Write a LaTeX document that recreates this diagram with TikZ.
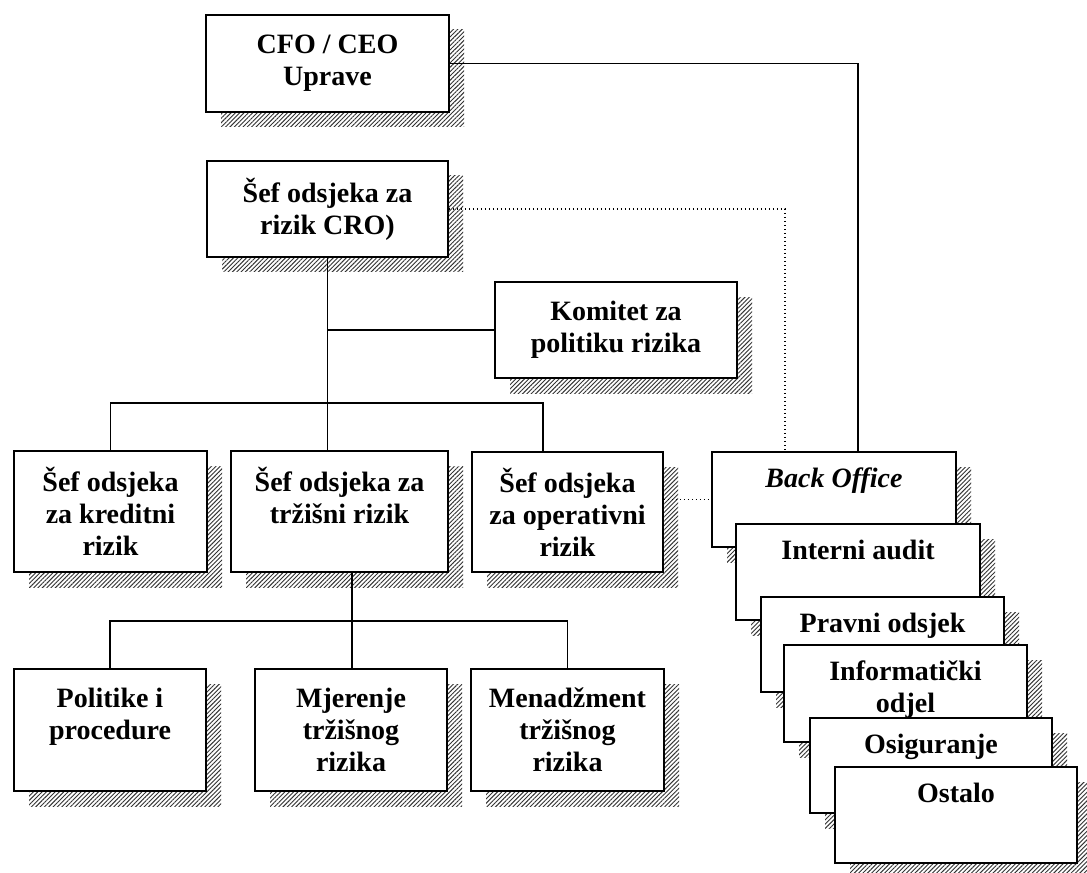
\documentclass[tikz,border=0pt]{standalone}
\usepackage{fontspec}
\setmainfont{Liberation Serif}
\usetikzlibrary{patterns.meta,shadows}
\newdimen\px \px=0.75pt
\begin{document}
\begin{tikzpicture}[x=0.75pt,y=-0.75pt,
  txtfont/.style={font=\fontsize{21}{24}\selectfont\bfseries},
  box/.style={draw, line width=1.4pt, fill=white, inner sep=0pt, align=center, txtfont,
    general shadow={shadow xshift=11.25pt, shadow yshift=-11.25pt, draw=none,
      pattern={Lines[angle=45,distance=2.3pt,line width=0.7pt]}, pattern color=black!80}},
  sz/.style 2 args={minimum width=#1*\px, minimum height=#2*\px},
  stxt/.style={anchor=north, inner sep=0pt, align=center, txtfont},
  conn/.style={line width=1.1pt},
  dots/.style={line width=1pt, dotted}]
\useasboundingbox (0,0) rectangle (1087,873);
\fill[white] (0,0) rectangle (1087,873);

\node[box, sz={243}{97}] (cfo) at (327.5,63.5) {CFO / CEO\\Uprave};
\node[box, sz={241}{96}] (cro) at (327.5,209) {Šef odsjeka za\\rizik CRO)};
\node[box, sz={242}{96}] (kom) at (616,330) {Komitet za\\politiku rizika};
\node[box, sz={193}{121}] (kred) at (110.5,511.5) {Šef odsjeka\\za kreditni\\rizik};
\node[box, sz={217}{121}] (trz) at (339.5,511.5) {Šef odsjeka za\\tržišni rizik\\\phantom{x}};
\node[box, sz={191}{120}] (oper) at (567.5,512) {Šef odsjeka\\za operativni\\rizik};
\node[box, sz={192}{122}] (pol) at (110,730) {Politike i\\procedure\\\phantom{x}};
\node[box, sz={192}{122}] (mje) at (351,730) {Mjerenje\\tržišnog\\rizika};
\node[box, sz={193}{122}] (men) at (567.5,730) {Menadžment\\tržišnog\\rizika};

\node[box, sz={244}{95}] (bo) at (834,499.5) {};
\node[stxt] (bot) at ([yshift=-10.5pt]bo.north) {\strut\textit{Back Office}};
\node[box, sz={244}{96}] (ia) at (858,572) {};
\node[stxt] (iat) at ([yshift=-10.5pt]ia.north) {\strut Interni audit};
\node[box, sz={243}{95}] (pr) at (882.5,644.5) {};
\node[stxt] (prt) at ([yshift=-10.5pt]pr.north) {\strut Pravni odsjek};
\node[box, sz={243}{97}] (inf) at (905.5,693.5) {};
\node[stxt] (inft) at ([yshift=-10.5pt]inf.north) {\strut Informatički\\odjel};
\node[box, sz={242}{95}] (os) at (931,765.5) {};
\node[stxt] (ost) at ([yshift=-10.5pt]os.north) {\strut Osiguranje};
\node[box, sz={242}{96}] (ot) at (956,815) {};
\node[stxt] (ott) at ([yshift=-10.5pt]ot.north) {\strut Ostalo};

% connectors
\draw[conn] (cfo.east) -| ([xshift=18pt]bo.north);
\draw[dots] (cro.east) -| ([xshift=-36.75pt]bo.north);
\coordinate (j1) at (cro.south |- 0,403);
\draw[conn] (cro.south) -- (cro.south |- trz.north);
\draw[conn] (kom.west) -- (kom.west -| cro.south);
\draw[conn] (kred.north) |- (j1) -| ([xshift=-18.4pt]oper.north);
\coordinate (t1) at ([xshift=9.4pt]trz.south);
\coordinate (j2) at (t1 |- 0,621);
\draw[conn] (t1) -- (t1 |- mje.north);
\draw[conn] (pol.north) |- (j2) -| (men.north);
\draw[dots] (oper.east |- bo.west) -- (bo.west);
\end{tikzpicture}
\end{document}
